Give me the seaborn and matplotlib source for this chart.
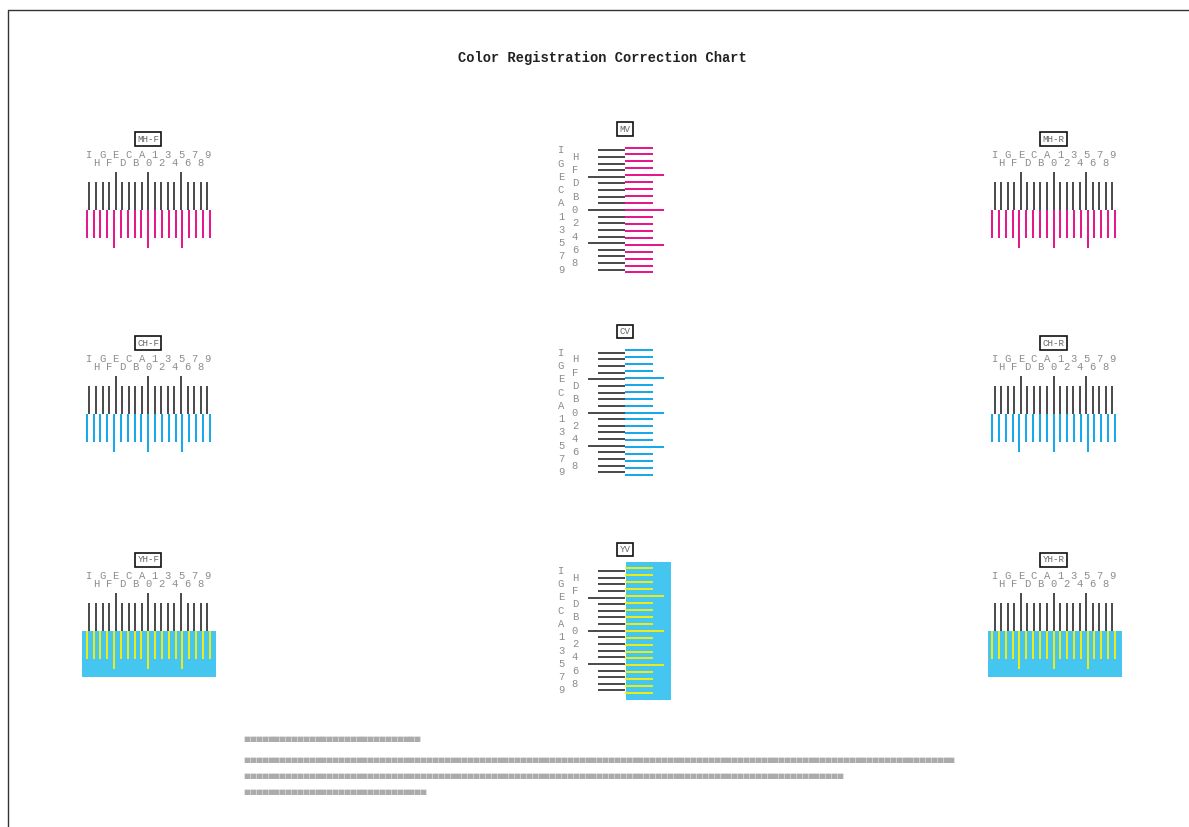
import matplotlib
matplotlib.use("Agg")
import matplotlib.pyplot as plt
import seaborn as sns
import numpy as np

# scale marks, from left/top to right/bottom
scale = ['I', 'H', 'G', 'F', 'E', 'D', 'C', 'B', 'A', '0',
         '1', '2', '3', '4', '5', '6', '7', '8', '9']
long_marks = ['E', '0', '5']

# patterns on the page
h_names = ['MH-F', 'MH-R', 'CH-F', 'CH-R', 'YH-F', 'YH-R']
h_color = ['magenta', 'magenta', 'cyan', 'cyan', 'yellow', 'yellow']
v_names = ['MV', 'CV', 'YV']
v_color = ['magenta', 'cyan', 'yellow']

title = 'Color Registration Correction Chart'
# unreadable footer text (rendered as blocks), characters per row
footer_len = [30, 121, 102, 31]

# ---- layout / style ----
ink = {'magenta': '#E5007F', 'cyan': '#00A0E9', 'yellow': '#FFF000'}
cyan_bg = '#45C6F0'
h_cols = [148.3, 1053.5]
h_rows = [210, 414, 631]
v_x = 625
v_rows = [210, 412.5, 630.7]
hp_k, hp_c = 6.54, 6.83   # pitch black / colour, horizontal charts
vp_k, vp_c = 6.64, 6.94   # pitch black / colour, vertical charts

sns.set_theme(style='white')
plt.rcParams['font.family'] = ['Liberation Mono', 'DejaVu Sans Mono']

fig = plt.figure(figsize=(11.89, 8.27), dpi=100)
ax = fig.add_axes([0, 0, 1, 1])
ax.set_xlim(0, 1189)
ax.set_ylim(827, 0)
ax.axis('off')

idx = np.arange(len(scale)) - scale.index('0')
is_long = np.array([s in long_marks for s in scale])
lab_kw = dict(fontsize=7.6, color='#8C8C8C', ha='center', va='center')
box_kw = dict(fontsize=6.6, color='#666666', ha='center', va='center',
              bbox=dict(boxstyle='square,pad=0.22', fc='white', ec='#111111', lw=1.2))

# horizontal charts
for k, name in enumerate(h_names):
    cx = h_cols[k % 2]
    by = h_rows[k // 2]
    col = h_color[k]
    xk = cx + idx * hp_k
    xc = cx + idx * hp_c
    if col == 'yellow':
        ax.add_patch(plt.Rectangle((cx - 66, by), 134, 46, color=cyan_bg, lw=0, zorder=1))
    ax.vlines(xk, by - np.where(is_long, 38.5, 28), by, color='#2A2A2A', lw=1.2, zorder=2)
    ax.vlines(xc, by, by + np.where(is_long, 38, 28), color=ink[col], lw=1.3, zorder=2)
    for i, s in enumerate(scale):
        ax.text(xk[i], by - (55 if i % 2 == 0 else 47), s, **lab_kw)
    ax.text(cx, by - 71, name, **box_kw)

# vertical charts
for k, name in enumerate(v_names):
    cy = v_rows[k]
    col = v_color[k]
    yk = cy + idx * vp_k
    yc = cy + idx * vp_c
    if col == 'yellow':
        ax.add_patch(plt.Rectangle((v_x + 1, cy - 69), 45, 138, color=cyan_bg, lw=0, zorder=1))
    ax.hlines(yk, v_x - np.where(is_long, 37.5, 27), v_x, color='#2A2A2A', lw=1.2, zorder=2)
    ax.hlines(yc, v_x, v_x + np.where(is_long, 39, 27.5), color=ink[col], lw=1.3, zorder=2)
    for i, s in enumerate(scale):
        ax.text(561 if i % 2 == 0 else 575, yk[i], s, **lab_kw)
    ax.text(v_x, cy - 81, name, **box_kw)

# title
ax.text(602, 58, title, fontsize=9.9, fontweight='bold', color='#222222',
        ha='center', va='center')

# footer rows: each unreadable character drawn as a block glyph
for n, y in zip(footer_len, [739, 760, 776, 792]):
    for j in range(n):
        ax.text(247 + j * 5.87, y, '\u25a0', fontsize=5.4, color='#ABABAB',
                ha='center', va='center', family='DejaVu Sans')

# page frame
ax.plot([7.5, 7.5, 1189], [827, 10, 10], color='#333333', lw=1.0)

fig.savefig('out.png', dpi=100)
